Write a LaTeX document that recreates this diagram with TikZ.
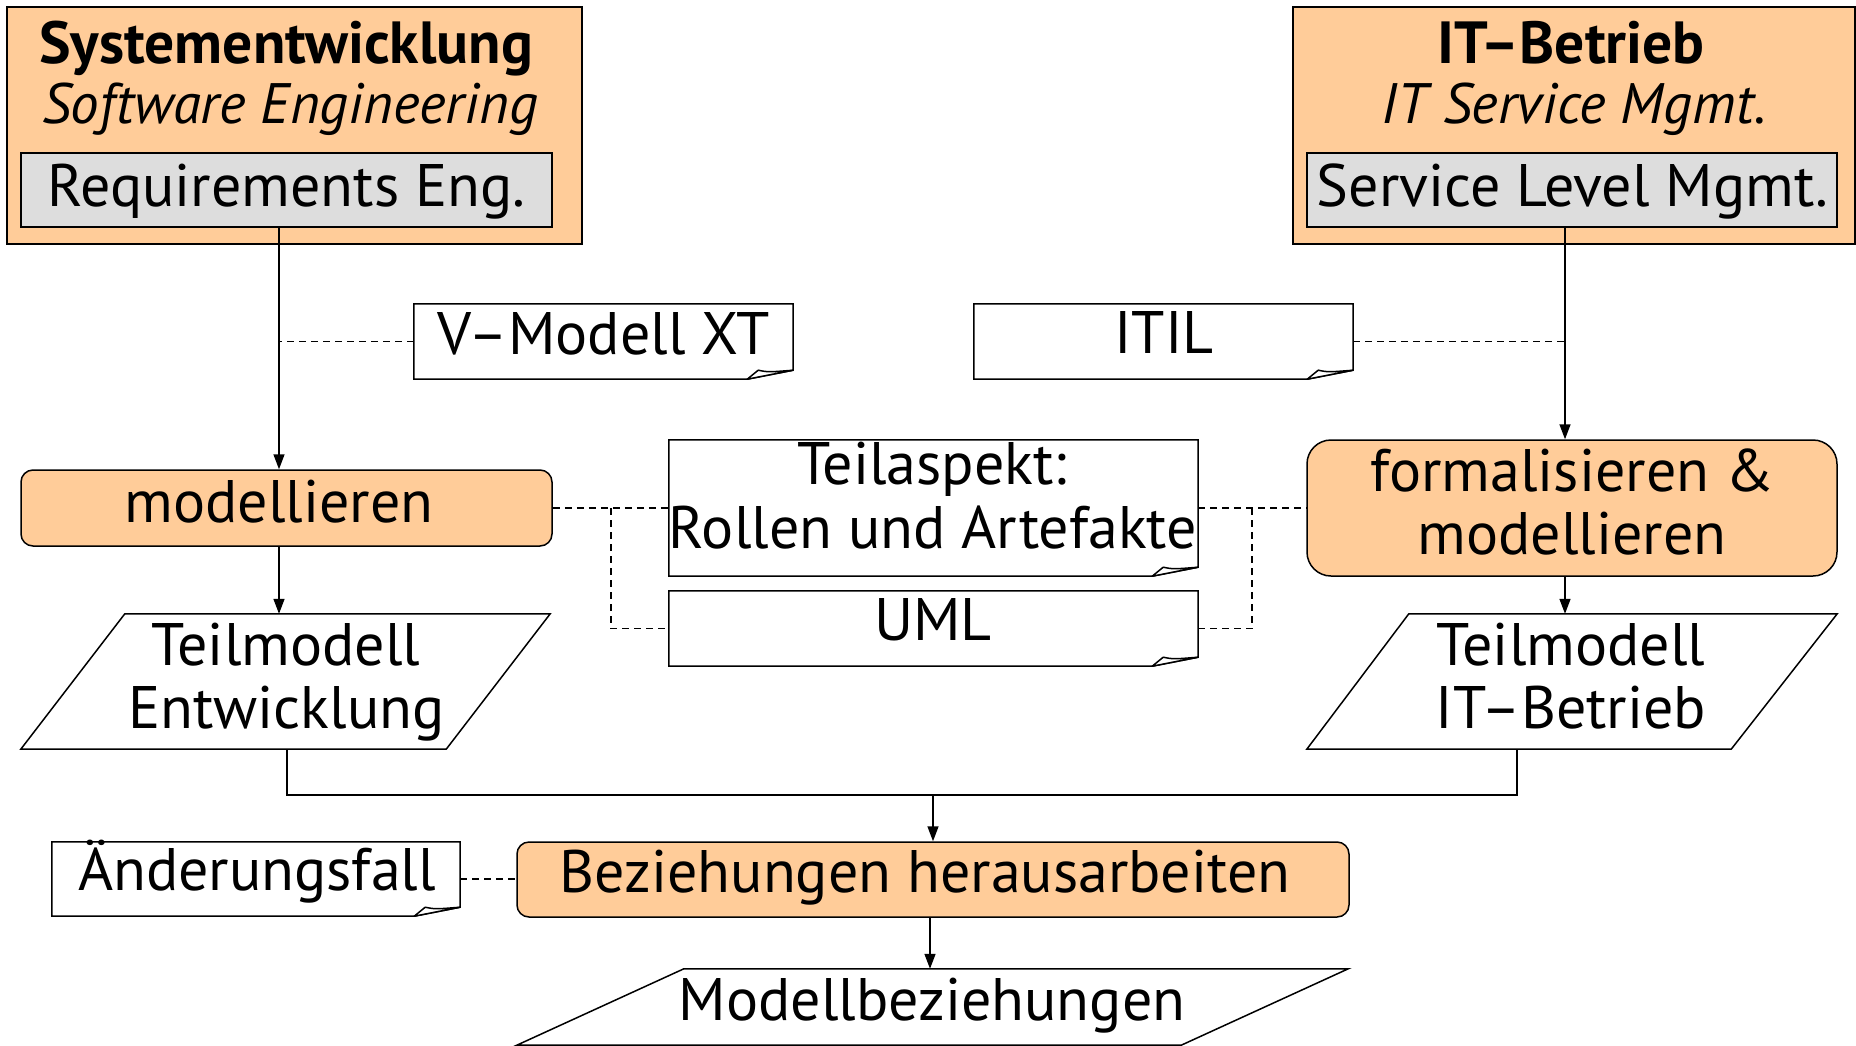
\documentclass[tikz,border=0pt]{standalone}
\usepackage{fontspec}
\setmainfont{PT Sans}
\usetikzlibrary{arrows.meta,calc}
\definecolor{peach}{HTML}{FFCC99}
\definecolor{lgrey}{HTML}{DDDDDD}
\newcommand\notefold[1]{%
  \draw[ln, fill=white] (#1.north west) -- (#1.north east) -- ([yshift=9pt]#1.south east)
     -- ([xshift=-46pt]#1.south east) -- (#1.south west) -- cycle;
  \draw[ln, fill=white, line join=round] ([xshift=-46pt]#1.south east)
     -- ([xshift=-35pt,yshift=9pt]#1.south east)
     .. controls ([xshift=-25pt,yshift=7pt]#1.south east) .. ([yshift=9pt]#1.south east) -- cycle;}
\begin{document}
\begin{tikzpicture}[x=1pt,y=-1pt,
  every node/.style={font=\fontsize{60}{64}\selectfont},
  ln/.style={line width=1.5pt},
  boxs/.style={draw, line width=1.5pt, inner sep=0pt, anchor=center},
  area/.style={boxs, fill=peach},
  sub/.style={boxs, fill=lgrey},
  act/.style={boxs, fill=peach, rounded corners=12pt},
  shapeholder/.style={inner sep=0pt, anchor=center},
  txt/.style={anchor=base, inner sep=0pt},
  ttl/.style={txt, font=\fontsize{59.5}{64}\selectfont\bfseries},
  sttl/.style={txt, font=\fontsize{57}{64}\selectfont\itshape},
  arr/.style={line width=1.5pt, -{Triangle[length=15pt,width=11pt]}},
  dsh/.style={line width=1.5pt, dash pattern=on 7pt off 5pt},
]
\useasboundingbox (0,0) rectangle (1856,1045);

% ---- top areas
\node[area, minimum width=575pt, minimum height=237pt] (se) at (294.5,125.5) {};
\node[sub, minimum width=531pt, minimum height=74pt] (re) at (286.5,190) {};
\node[ttl] (se1) at (286,63) {Systementwicklung};
\node[sttl] (se2) at (290,123) {Software Engineering};
\node[txt] (re1) at (286.5,206) {Requirements Eng.};

\node[area, minimum width=562pt, minimum height=237pt] (ib) at (1574,125.5) {};
\node[sub, minimum width=530pt, minimum height=74pt] (slm) at (1572,190) {};
\node[ttl] (ib1) at (1571,63) {IT–Betrieb};
\node[sttl] (ib2) at (1574,123) {IT Service Mgmt.};
\node[txt] (slm1) at (1572.5,206) {Service Level Mgmt.};

% ---- notes
\node[shapeholder, minimum width=379pt, minimum height=75pt] (vm) at (603.5,341.5) {};
\notefold{vm}
\node[txt] (vm1) at (604,354) {V–Modell XT};
\node[shapeholder, minimum width=379pt, minimum height=75pt] (it) at (1163.5,341.5) {};
\notefold{it}
\node[txt] (it1) at (1164,353) {ITIL};
\node[shapeholder, minimum width=529pt, minimum height=136pt] (ta) at (933.5,508) {};
\notefold{ta}
\node[txt] (ta1) at (932,484) {Teilaspekt:};
\node[txt] (ta2) at (933,548) {Rollen und Artefakte};
\node[shapeholder, minimum width=529pt, minimum height=75pt] (uml) at (933.5,628.5) {};
\notefold{uml}
\node[txt] (uml1) at (933,640) {UML};
\node[shapeholder, minimum width=408pt, minimum height=74pt] (an) at (256,879) {};
\notefold{an}
\node[txt] (an1) at (257,890) {Änderungsfall};

% ---- activities
\node[act, minimum width=531pt, minimum height=76pt] (mo) at (286.5,508) {};
\node[txt] (mo1) at (279,522) {modellieren};
\node[act, rounded corners=24pt, minimum width=530pt, minimum height=136pt] (fm) at (1572,508) {};
\node[txt] (fm1) at (1572.5,491) {formalisieren \&};
\node[txt] (fm2) at (1572,554) {modellieren};
\node[act, minimum width=832pt, minimum height=75pt] (bz) at (933,879.5) {};
\node[txt] (bz1) at (925,892) {Beziehungen herausarbeiten};

% ---- data objects (parallelograms)
\node[shapeholder, minimum width=529pt, minimum height=135pt] (tme) at (285.5,681.5) {};
\draw[ln, fill=white] ([xshift=104pt]tme.north west) -- (tme.north east)
  -- ([xshift=-104pt]tme.south east) -- (tme.south west) -- cycle;
\node[txt] (tme1) at (286,665) {Teilmodell};
\node[txt] (tme2) at (286.5,728) {Entwicklung};
\node[shapeholder, minimum width=530pt, minimum height=135pt] (tmi) at (1572,681.5) {};
\draw[ln, fill=white] ([xshift=102pt]tmi.north west) -- (tmi.north east)
  -- ([xshift=-106pt]tmi.south east) -- (tmi.south west) -- cycle;
\node[txt] (tmi1) at (1571,665) {Teilmodell};
\node[txt] (tmi2) at (1571,728) {IT–Betrieb};
\node[shapeholder, minimum width=831pt, minimum height=76pt] (mb) at (932.5,1007) {};
\draw[ln, fill=white] ([xshift=167pt]mb.north west) -- (mb.north east)
  -- ([xshift=-167pt]mb.south east) -- (mb.south west) -- cycle;
\node[txt] (mb1) at (932,1020) {Modellbeziehungen};

% ---- connectors
\coordinate (l1) at ([xshift=-7.5pt]re.south);
\coordinate (l2) at ([xshift=-7pt]slm.south);
\draw[arr] (l1) -- (l1 |- mo.north);
\draw[dsh] (vm.west) -- (vm.west -| l1);
\draw[arr] (mo.south -| l1) -- (tme.north -| l1);
\draw[arr] (l2) -- (l2 |- fm.north);
\draw[dsh] (it.east) -- (it.east -| l2);
\draw[arr] (fm.south -| l2) -- (tmi.north -| l2);

\draw[dsh] (mo.east) -- (ta.west);
\draw[dsh] ($(mo.east)!0.5!(ta.west)$) |- (uml.west);
\draw[dsh] (ta.east) -- (fm.west);
\draw[dsh] ($(ta.east)!0.5!(fm.west)$) |- (uml.east);

\coordinate (j) at (bz.north |- 0,795);
\draw[ln] ([xshift=1.5pt]tme.south) |- (j) -| ([xshift=-55pt]tmi.south);
\draw[arr] (j) -- (bz.north);
\draw[dsh] (an.east) -- (an.east -| bz.west);
\draw[arr] ([xshift=-3pt]bz.south) -- ([xshift=-3pt]bz.south |- mb.north);
\end{tikzpicture}
\end{document}
